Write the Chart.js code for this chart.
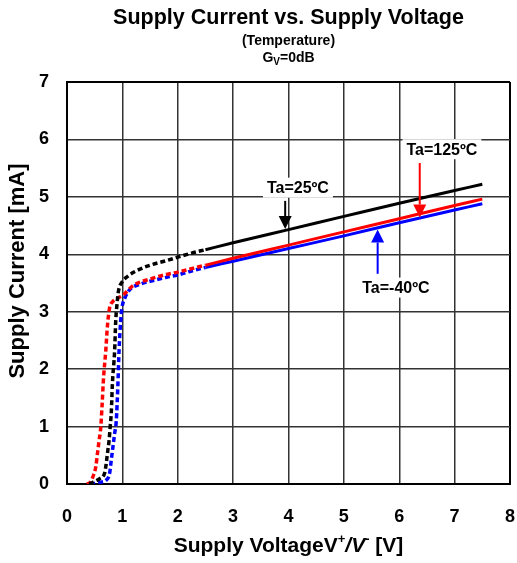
<!DOCTYPE html>
<html>
<head>
<meta charset="utf-8">
<script src="https://cdn.jsdelivr.net/npm/chart.js@4/dist/chart.umd.min.js"></script>
<style>
html,body{margin:0;padding:0;background:#fff;}
#wrap{width:517px;height:563px;position:relative;}
</style>
</head>
<body>
<div id="wrap"><canvas id="c" width="517" height="563"></canvas></div>
<script>
// ---- data ----
const xTicks = [0,1,2,3,4,5,6,7,8];
const yTicks = [0,1,2,3,4,5,6,7];

const black25DotX = [0.40,0.47,0.60,0.68,0.71,0.73,0.76,0.78,0.80,0.82,0.86,0.88,0.90,0.93,0.99,1.10,1.25,1.50,1.80,2.00,2.25,2.50];
const black25DotY = [0.00,0.03,0.10,0.19,0.37,0.53,0.76,1.00,1.25,1.75,2.32,2.84,3.10,3.36,3.51,3.62,3.71,3.81,3.89,3.95,4.02,4.08];
const black25SolidX = [2.50,3.00,4.00,5.00,6.00,7.00,7.50];
const black25SolidY = [4.08,4.20,4.43,4.66,4.89,5.11,5.22];

const red125DotX = [0.36,0.42,0.47,0.52,0.55,0.58,0.61,0.635,0.66,0.70,0.73,0.77,0.82,0.90,1.00,1.20,1.50,1.80,2.00,2.25,2.50];
const red125DotY = [0.00,0.03,0.13,0.30,0.53,0.76,0.99,1.40,1.85,2.32,2.75,3.07,3.17,3.23,3.28,3.46,3.57,3.65,3.69,3.75,3.81];
const red125SolidX = [2.50,3.00,4.00,5.00,6.00,7.00,7.50];
const red125SolidY = [3.81,3.93,4.16,4.39,4.62,4.85,4.96];

const blueM40DotX = [0.42,0.50,0.60,0.71,0.77,0.80,0.83,0.86,0.89,0.92,0.94,0.97,0.99,1.05,1.14,1.32,1.50,1.80,2.00,2.25,2.50];
const blueM40DotY = [0.00,0.01,0.03,0.07,0.19,0.42,0.65,0.88,1.10,1.75,2.32,2.84,3.05,3.25,3.39,3.48,3.53,3.60,3.64,3.71,3.77];
const blueM40SolidX = [2.50,3.00,4.00,5.00,6.00,7.00,7.50];
const blueM40SolidY = [3.77,3.88,4.10,4.32,4.55,4.77,4.88];

// annotation labels (text, anchor in data units, arrow from/to in data units)
const labelTexts = ['Ta=25ºC','Ta=125ºC','Ta=-40ºC'];
const labelPos = [[4.17,5.16],[6.77,5.83],[5.94,3.42]];
const arrowX = [3.94,6.37,5.61];
const arrowFromY = [4.93,5.59,3.66];
const arrowToY = [4.44,4.64,4.43];
const labelColors = ['#000000','#ff0000','#0000ff'];

function pts(xs, ys){ return xs.map((x,i)=>({x:x,y:ys[i]})); }

const FONT = 'Arial, "Liberation Sans", Helvetica, sans-serif';

function ds(label, xs, ys, color, dotted, order){
  return {
    label: label,
    data: pts(xs, ys),
    borderColor: color,
    backgroundColor: color,
    borderWidth: dotted ? 3.5 : 3,
    borderDash: dotted ? [5,3] : [],
    pointRadius: 0,
    showLine: true,
    fill: false,
    cubicInterpolationMode: 'monotone',
    order: order
  };
}

const overlay = {
  id: 'overlay',
  afterDraw(chart){
    const ctx = chart.ctx;
    const xs = chart.scales.x, ys = chart.scales.y;
    const ca = chart.chartArea;
    const cx = (ca.left + ca.right) / 2;
    ctx.save();
    ctx.fillStyle = '#000';
    ctx.textAlign = 'center';
    ctx.textBaseline = 'alphabetic';
    // titles
    ctx.font = 'bold 21.5px ' + FONT;
    ctx.fillText('Supply Current vs. Supply Voltage', cx, 24);
    ctx.font = 'bold 14px ' + FONT;
    ctx.fillText('(Temperature)', cx, 45);
    // G_V=0dB
    ctx.font = 'bold 14px ' + FONT;
    const g = 'G', sub = 'V', rest = '=0dB';
    ctx.textAlign = 'left';
    const wG = ctx.measureText(g).width;
    const wR = ctx.measureText(rest).width;
    ctx.font = 'bold 10px ' + FONT;
    const wS = ctx.measureText(sub).width;
    let sx = cx - (wG + wS + wR) / 2;
    ctx.font = 'bold 14px ' + FONT;
    ctx.fillText(g, sx, 62);
    ctx.font = 'bold 10px ' + FONT;
    ctx.fillText(sub, sx + wG, 65);
    ctx.font = 'bold 14px ' + FONT;
    ctx.fillText(rest, sx + wG + wS, 62);

    // x axis title with superscripts
    const parts = [
      {t:'Supply VoltageV', f:'bold 21px ' + FONT, dy:0},
      {t:'+', f:'bold 13px ' + FONT, dy:-9},
      {t:'/V', f:'italic bold 21px ' + FONT, dy:0},
      {t:'-', f:'bold 13px ' + FONT, dy:-9},
      {t:' [V]', f:'bold 21px ' + FONT, dy:0}
    ];
    let tw = 0;
    parts.forEach(p=>{ ctx.font = p.f; p.w = ctx.measureText(p.t).width; tw += p.w; });
    let px = cx - tw / 2;
    const by = 552;
    parts.forEach(p=>{ ctx.font = p.f; ctx.fillText(p.t, px, by + p.dy); px += p.w; });

    // y axis title
    ctx.save();
    ctx.translate(18, (ca.top + ca.bottom) / 2 - 12);
    ctx.rotate(-Math.PI / 2);
    ctx.textAlign = 'center';
    ctx.textBaseline = 'middle';
    ctx.font = 'bold 22px ' + FONT;
    ctx.fillText('Supply Current [mA]', 0, 0);
    ctx.restore();

    // annotations
    for (let i = 0; i < labelTexts.length; i++) {
      const ax = xs.getPixelForValue(arrowX[i]);
      const y0 = ys.getPixelForValue(arrowFromY[i]);
      const y1 = ys.getPixelForValue(arrowToY[i]);
      const dir = y1 > y0 ? 1 : -1;
      const headLen = 13, headHalf = 6.5;
      ctx.strokeStyle = labelColors[i];
      ctx.fillStyle = labelColors[i];
      ctx.lineWidth = 2;
      ctx.beginPath();
      ctx.moveTo(ax, y0);
      ctx.lineTo(ax, y1 - dir * headLen);
      ctx.stroke();
      ctx.beginPath();
      ctx.moveTo(ax, y1);
      ctx.lineTo(ax - headHalf, y1 - dir * headLen);
      ctx.lineTo(ax + headHalf, y1 - dir * headLen);
      ctx.closePath();
      ctx.fill();

      const lx = xs.getPixelForValue(labelPos[i][0]);
      const ly = ys.getPixelForValue(labelPos[i][1]);
      ctx.font = 'bold 16px ' + FONT;
      const w = ctx.measureText(labelTexts[i]).width;
      ctx.fillStyle = '#fff';
      ctx.fillRect(lx - w / 2 - 4, ly - 10, w + 8, 20);
      ctx.fillStyle = '#000';
      ctx.textAlign = 'center';
      ctx.textBaseline = 'middle';
      ctx.fillText(labelTexts[i], lx, ly + 1);
    }
    ctx.restore();
  }
};

new Chart(document.getElementById('c'), {
  type: 'scatter',
  data: {
    datasets: [
      ds('Ta=25ºC', black25DotX, black25DotY, '#000000', true, 0),
      ds('Ta=25ºC', black25SolidX, black25SolidY, '#000000', false, 0),
      ds('Ta=125ºC', red125DotX, red125DotY, '#ff0000', true, 1),
      ds('Ta=125ºC', red125SolidX, red125SolidY, '#ff0000', false, 1),
      ds('Ta=-40ºC', blueM40DotX, blueM40DotY, '#0000ff', true, 2),
      ds('Ta=-40ºC', blueM40SolidX, blueM40SolidY, '#0000ff', false, 2)
    ]
  },
  options: {
    responsive: false,
    animation: false,
    devicePixelRatio: 1,
    layout: { padding: { left: 0, right: 7, top: 82, bottom: 0 }, autoPadding: false },
    plugins: { legend: { display: false }, tooltip: { enabled: false }, title: { display: false } },
    scales: {
      x: {
        type: 'linear', min: 0, max: 8,
        afterFit(s){ s.height = 79; s.paddingLeft = 0; s.paddingRight = 0; },
        afterBuildTicks(s){ s.ticks = xTicks.map(v=>({value:v})); },
        ticks: { color: '#000', font: { family: FONT, size: 18, weight: 'bold' }, padding: 22, maxRotation: 0 },
        grid: {
          drawTicks: false,
          color: c => (c.tick && (c.tick.value === 8 || c.tick.value === 0)) ? '#000' : '#333',
          lineWidth: c => (c.tick && (c.tick.value === 8 || c.tick.value === 0)) ? 2 : 1.5
        },
        border: { display: true, color: '#000', width: 2 }
      },
      y: {
        type: 'linear', min: 0, max: 7,
        afterFit(s){ s.width = 67; s.paddingTop = 0; s.paddingBottom = 0; },
        afterBuildTicks(s){ s.ticks = yTicks.map(v=>({value:v})); },
        ticks: { color: '#000', font: { family: FONT, size: 18, weight: 'bold' }, padding: 18 },
        grid: {
          drawTicks: false,
          color: c => (c.tick && (c.tick.value === 7 || c.tick.value === 0)) ? '#000' : '#333',
          lineWidth: c => (c.tick && (c.tick.value === 7 || c.tick.value === 0)) ? 2 : 1.5
        },
        border: { display: true, color: '#000', width: 2 }
      }
    }
  },
  plugins: [overlay]
});
</script>
</body>
</html>
